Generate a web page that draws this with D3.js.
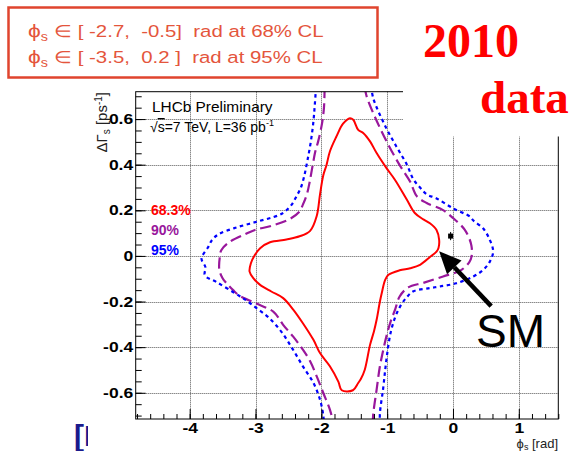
<!DOCTYPE html>
<html>
<head>
<meta charset="utf-8">
<script src="https://cdn.jsdelivr.net/npm/d3@7"></script>
<style>
  html, body { margin: 0; padding: 0; background: #fff; }
  svg { display: block; font-family: "Liberation Sans", Arial, sans-serif; }
  text { white-space: pre; }
</style>
</head>
<body>
<svg id="chart" width="581" height="451"></svg>
<script>
// ---- axis ticks ----
const phiTicks = [-4, -3, -2, -1, 0, 1];
const dgTicks = [-0.6, -0.4, -0.2, 0, 0.2, 0.4, 0.6];

// ---- confidence contours in (phi_s [rad], DeltaGamma_s [ps^-1]) ----
// 68.3% CL: one closed contour
const cl68 = [
  [-1.565, 0.604], [-1.515, 0.597], [-1.44, 0.553], [-1.36, 0.538], [-1.26, 0.502],
  [-1.16, 0.451], [-1.01, 0.385], [-0.88, 0.333], [-0.70, 0.246], [-0.58, 0.188],
  [-0.45, 0.160], [-0.35, 0.143], [-0.25, 0.114], [-0.21, 0.070], [-0.22, 0.035],
  [-0.25, 0.019], [-0.35, -0.005], [-0.50, -0.039], [-0.65, -0.054], [-0.81, -0.063],
  [-0.98, -0.083], [-1.03, -0.105], [-1.08, -0.160], [-1.11, -0.200], [-1.16, -0.280],
  [-1.20, -0.330], [-1.26, -0.390], [-1.34, -0.499], [-1.40, -0.540], [-1.44, -0.557],
  [-1.52, -0.589], [-1.69, -0.589], [-1.74, -0.552], [-1.87, -0.484], [-2.02, -0.426],
  [-2.12, -0.368], [-2.28, -0.295], [-2.43, -0.234], [-2.58, -0.185], [-2.76, -0.156],
  [-2.93, -0.127], [-3.03, -0.098], [-3.09, -0.069], [-3.07, -0.032], [-3.01, 0.004],
  [-2.93, 0.034], [-2.78, 0.060], [-2.53, 0.072], [-2.33, 0.086], [-2.17, 0.110],
  [-2.07, 0.175], [-2.02, 0.270], [-1.97, 0.354], [-1.92, 0.400], [-1.87, 0.458],
  [-1.77, 0.524], [-1.67, 0.580]
];
// 90% CL: two branches leaving the frame at top and bottom
const cl90Left = [
  [-1.95, 0.74], [-1.96, 0.65], [-1.99, 0.58], [-2.05, 0.50], [-2.09, 0.46],
  [-2.13, 0.40], [-2.18, 0.32], [-2.22, 0.27], [-2.28, 0.225], [-2.33, 0.195],
  [-2.48, 0.162], [-2.78, 0.130], [-3.00, 0.115], [-3.16, 0.095], [-3.40, 0.060],
  [-3.52, 0.025], [-3.54, 0.0], [-3.55, -0.060], [-3.50, -0.098], [-3.44, -0.120],
  [-3.34, -0.150], [-3.24, -0.175], [-3.00, -0.207], [-2.73, -0.244], [-2.63, -0.280],
  [-2.58, -0.302], [-2.43, -0.353], [-2.28, -0.411], [-2.17, -0.462], [-2.07, -0.528],
  [-1.97, -0.601], [-1.87, -0.674], [-1.81, -0.74]
];
const cl90Right = [
  [-1.22, -0.74], [-1.21, -0.69], [-1.16, -0.586], [-1.11, -0.484], [-1.05, -0.400],
  [-1.00, -0.340], [-0.95, -0.290], [-0.88, -0.236], [-0.81, -0.178], [-0.68, -0.138],
  [-0.45, -0.118], [-0.15, -0.090], [0.13, -0.061], [0.27, -0.015], [0.28, 0.045],
  [0.18, 0.114], [0.005, 0.165], [-0.15, 0.201], [-0.40, 0.232], [-0.55, 0.262],
  [-0.65, 0.325], [-0.81, 0.398], [-0.98, 0.486], [-1.16, 0.593], [-1.31, 0.698],
  [-1.34, 0.74]
];
// 95% CL: two branches leaving the frame at top and bottom
const cl95Left = [
  [-2.08, 0.74], [-2.10, 0.66], [-2.12, 0.59], [-2.16, 0.50], [-2.21, 0.42],
  [-2.26, 0.35], [-2.31, 0.30], [-2.38, 0.26], [-2.45, 0.225], [-2.55, 0.195],
  [-2.65, 0.178], [-2.98, 0.150], [-3.32, 0.122], [-3.56, 0.095], [-3.66, 0.070],
  [-3.72, 0.038], [-3.82, -0.012], [-3.76, -0.050], [-3.77, -0.085], [-3.59, -0.115],
  [-3.32, -0.162], [-3.14, -0.195], [-2.98, -0.230], [-2.80, -0.270], [-2.60, -0.335],
  [-2.43, -0.411], [-2.28, -0.484], [-2.12, -0.557], [-2.02, -0.630], [-1.97, -0.700],
  [-1.96, -0.74]
];
const cl95Right = [
  [-1.11, -0.74], [-1.11, -0.69], [-1.06, -0.58], [-1.03, -0.50], [-1.00, -0.43],
  [-0.95, -0.34], [-0.88, -0.27], [-0.80, -0.22], [-0.70, -0.18], [-0.60, -0.155],
  [-0.35, -0.141], [-0.20, -0.134], [0.05, -0.120], [0.31, -0.090], [0.46, -0.061],
  [0.56, -0.025], [0.61, 0.020], [0.56, 0.070], [0.46, 0.120], [0.31, 0.155],
  [0.26, 0.172], [0.0, 0.209], [-0.25, 0.252], [-0.40, 0.270], [-0.50, 0.300],
  [-0.60, 0.335], [-0.70, 0.400], [-0.86, 0.480], [-1.03, 0.570], [-1.21, 0.690],
  [-1.24, 0.74]
];

// Standard Model prediction with its uncertainty
const smPoint = { phi: -0.036, dg: 0.087, phiErr: 0.004, dgErr: 0.018 };

// contour legend
const clLabels = ["68.3%", "90%", "95%"];
const clColors = ["#ff0000", "#99179c", "#0000ff"];

// ---- layout ----
const svg = d3.select("#chart");
const x = d3.scaleLinear().domain([-4.82, 1.6]).range([135.7, 558.3]);
const y = d3.scaleLinear().domain([-0.715, 0.72]).range([419, 91.7]);
const [x0, x1] = x.range();
const [yb, yt] = y.range();

// widen a text horizontally about its anchor point
function widen(sel, sx, ax, ay) {
  sel.attr("transform", `translate(${ax},${ay}) scale(${sx},1) translate(${-ax},${-ay})`);
}

svg.append("defs").append("clipPath").attr("id", "plotClip")
  .append("rect").attr("x", x0).attr("y", yt).attr("width", x1 - x0).attr("height", yb - yt);

// grid
const grid = svg.append("g").attr("stroke", "#555").attr("stroke-width", 1)
  .attr("stroke-dasharray", "1,1");
phiTicks.forEach(v => grid.append("line")
  .attr("x1", Math.round(x(v)) + 0.5).attr("x2", Math.round(x(v)) + 0.5)
  .attr("y1", yt).attr("y2", yb));
dgTicks.forEach(v => grid.append("line")
  .attr("y1", Math.round(y(v)) + 0.5).attr("y2", Math.round(y(v)) + 0.5)
  .attr("x1", x0).attr("x2", x1));

// contours
const plot = svg.append("g").attr("clip-path", "url(#plotClip)");
const lineOpen = d3.line().x(d => x(d[0])).y(d => y(d[1])).curve(d3.curveCatmullRom.alpha(0.5));
const lineClosed = d3.line().x(d => x(d[0])).y(d => y(d[1])).curve(d3.curveCatmullRomClosed.alpha(0.5));

plot.append("path").attr("d", lineClosed(cl68)).attr("fill", "none")
  .attr("stroke", clColors[0]).attr("stroke-width", 2);
[cl90Left, cl90Right].forEach(c => plot.append("path").attr("d", lineOpen(c))
  .attr("fill", "none").attr("stroke", clColors[1]).attr("stroke-width", 2.2)
  .attr("stroke-dasharray", "11,5"));
[cl95Left, cl95Right].forEach(c => plot.append("path").attr("d", lineOpen(c))
  .attr("fill", "none").attr("stroke", clColors[2]).attr("stroke-width", 2.2)
  .attr("stroke-dasharray", "3.5,3.5"));

// SM point with error bars
plot.append("line").attr("x1", x(smPoint.phi)).attr("x2", x(smPoint.phi))
  .attr("y1", y(smPoint.dg - smPoint.dgErr)).attr("y2", y(smPoint.dg + smPoint.dgErr))
  .attr("stroke", "#000").attr("stroke-width", 1);
plot.append("line").attr("x1", x(smPoint.phi - smPoint.phiErr)).attr("x2", x(smPoint.phi + smPoint.phiErr))
  .attr("y1", y(smPoint.dg)).attr("y2", y(smPoint.dg))
  .attr("stroke", "#000").attr("stroke-width", 1);
plot.append("rect").attr("x", x(smPoint.phi) - 2.5).attr("y", y(smPoint.dg) - 2.5)
  .attr("width", 5).attr("height", 5).attr("fill", "#000");

// frame
svg.append("rect").attr("x", x0).attr("y", yt).attr("width", x1 - x0).attr("height", yb - yt)
  .attr("fill", "none").attr("stroke", "#000").attr("stroke-width", 1);

// axes: major ticks with labels, minor ticks without
const fmt = d => String(+d.toFixed(1));
const yAxis = svg.append("g").attr("transform", `translate(${x0},0)`)
  .call(d3.axisLeft(y).tickValues(dgTicks).tickSize(-10).tickPadding(2).tickFormat(fmt));
svg.append("g").attr("transform", `translate(${x0},0)`)
  .call(d3.axisLeft(y).tickValues(d3.range(-0.7, 0.7001, 0.05)).tickSize(-6).tickFormat(""));
const xAxis = svg.append("g").attr("transform", `translate(0,${yb})`)
  .call(d3.axisBottom(x).tickValues(phiTicks).tickSize(-10).tickPadding(4).tickFormat(fmt));
svg.append("g").attr("transform", `translate(0,${yb})`)
  .call(d3.axisBottom(x).tickValues(d3.range(-4.8, 1.601, 0.2)).tickSize(-5).tickFormat(""));
svg.selectAll(".domain").remove();
svg.selectAll(".tick line").attr("stroke", "#000");
[yAxis, xAxis].forEach(a => a.selectAll("text")
  .attr("font-family", "'Liberation Sans', Arial, sans-serif")
  .attr("font-size", 14).attr("font-weight", "bold").attr("fill", "#000"));
yAxis.selectAll("text").attr("transform", "scale(1.25,1)");
xAxis.selectAll("text").attr("transform", "scale(1.25,1)");

// axis titles
const yTitle = svg.append("text").attr("transform", "translate(107,92) rotate(-90)")
  .attr("text-anchor", "end").attr("font-size", 15).attr("fill", "#222");
yTitle.append("tspan").text("ΔΓ");
yTitle.append("tspan").attr("font-size", 10).attr("dy", 3).text("s");
yTitle.append("tspan").attr("dy", -3).text(" [ps");
yTitle.append("tspan").attr("font-size", 10).attr("dy", -5).text("-1");
yTitle.append("tspan").attr("dy", 5).text("]");

const xTitle = svg.append("text").attr("x", 558).attr("y", 448)
  .attr("text-anchor", "end").attr("font-size", 13).attr("fill", "#222");
xTitle.append("tspan").text("ϕ");
xTitle.append("tspan").attr("font-size", 9).attr("dy", 2).text("s");
xTitle.append("tspan").attr("dy", -2).text(" [rad]");

// plot annotations
const lhcb = svg.append("text").attr("x", 152).attr("y", 112).attr("font-size", 14).attr("fill", "#000")
  .text("LHCb Preliminary");
widen(lhcb, 1.1, 152, 112);
const energy = svg.append("text").attr("x", 150).attr("y", 132).attr("font-size", 14).attr("fill", "#000");
energy.append("tspan").text("√");
energy.append("tspan").attr("text-decoration", "overline").text("s");
energy.append("tspan").text("=7 TeV, L=36 pb");
energy.append("tspan").attr("font-size", 9).attr("dy", -6).text("-1");

clLabels.forEach((t, i) => svg.append("text").attr("x", 151).attr("y", 215 + 20 * i)
  .attr("font-size", 14).attr("font-weight", "bold").attr("fill", clColors[i]).text(t));

// slide overlays
svg.append("rect").attr("x", 403).attr("y", 0).attr("width", 178).attr("height", 136.5).attr("fill", "#fff");
svg.append("text").attr("x", 423).attr("y", 57).attr("font-family", "'Liberation Serif', 'Times New Roman', serif")
  .attr("font-size", 48).attr("font-weight", "bold").attr("fill", "#ff0000").text("2010");
svg.append("text").attr("x", 480).attr("y", 113).attr("font-family", "'Liberation Serif', 'Times New Roman', serif")
  .attr("font-size", 47).attr("font-weight", "bold").attr("fill", "#ff0000").text("data");

// result box
svg.append("rect").attr("x", 8.5).attr("y", 7.5).attr("width", 369).attr("height", 70)
  .attr("fill", "#fff").attr("stroke", "#e0442e").attr("stroke-width", 2.5);
const boxLines = [
  ["[ -2.7,  -0.5]", "68%"],
  ["[ -3.5,  0.2 ]", "95%"]
];
boxLines.forEach((l, i) => {
  const by = 37 + 26.5 * i;
  const t = svg.append("text").attr("x", 28).attr("y", by)
    .attr("font-size", 17).attr("fill", "#e4553c");
  t.append("tspan").attr("font-size", 19).text("ϕ");
  t.append("tspan").attr("font-size", 12).attr("dy", 4).text("s");
  t.append("tspan").attr("dy", -4).text(` ∈ ${l[0]}  rad at ${l[1]} CL`);
  widen(t, 1.2, 28, by);
});

// SM arrow
const tip = [x(-0.21), y(0.02)];
const tail = [x(0.58), y(-0.22)];
const ang = Math.atan2(tip[1] - tail[1], tip[0] - tail[0]);
const headLen = 22, headHalf = 10;
const base = [tip[0] - headLen * Math.cos(ang), tip[1] - headLen * Math.sin(ang)];
svg.append("line").attr("x1", tail[0]).attr("y1", tail[1]).attr("x2", base[0]).attr("y2", base[1])
  .attr("stroke", "#000").attr("stroke-width", 4.5);
svg.append("polygon").attr("fill", "#000").attr("points", [
  tip,
  [base[0] + headHalf * Math.sin(ang), base[1] - headHalf * Math.cos(ang)],
  [base[0] - headHalf * Math.sin(ang), base[1] + headHalf * Math.cos(ang)]
].map(p => p.join(",")).join(" "));
svg.append("text").attr("x", 476).attr("y", 347).attr("font-size", 46).attr("fill", "#000").text("SM");

// partly hidden reference bracket at lower left
svg.append("defs").append("clipPath").attr("id", "refClip")
  .append("rect").attr("x", 60).attr("y", 400).attr("width", 28).attr("height", 51);
svg.append("text").attr("clip-path", "url(#refClip)").attr("x", 74).attr("y", 446)
  .attr("font-size", 30).attr("font-weight", "bold").attr("fill", "#1a1a8c").text("[I");
</script>
</body>
</html>
